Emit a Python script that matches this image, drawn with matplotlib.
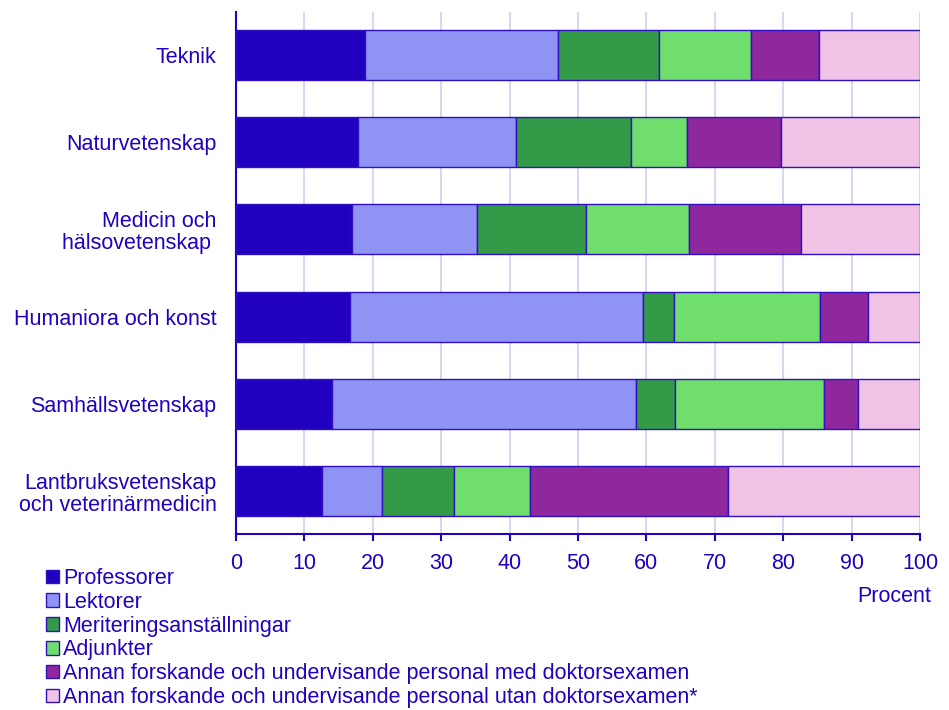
import numpy as np
import matplotlib
matplotlib.use("Agg")
import matplotlib.pyplot as plt
from matplotlib.patches import Patch

plt.rcParams['font.family'] = ['Liberation Sans', 'DejaVu Sans']

# categories, top to bottom
categories = ["Teknik", "Naturvetenskap", "Medicin och\nhälsovetenskap ",
              "Humaniora och konst", "Samhällsvetenskap",
              "Lantbruksvetenskap\noch veterinärmedicin"]

series_names = ["Professorer", "Lektorer", "Meriteringsanställningar", "Adjunkter",
                "Annan forskande och undervisande personal med doktorsexamen",
                "Annan forskande och undervisande personal utan doktorsexamen*"]

# procent per category (same order as categories)
professorer = [18.8, 17.8, 16.9, 16.7, 14.1, 12.6]
lektorer    = [28.3, 23.2, 18.4, 42.8, 44.4, 8.8]
meritering  = [14.8, 16.8, 15.9, 4.5, 5.7, 10.5]
adjunkter   = [13.4, 8.2, 15.1, 21.4, 21.7, 11.1]
annan_med   = [10.0, 13.7, 16.3, 7.0, 5.0, 28.9]
annan_utan  = [14.7, 20.3, 17.4, 7.6, 9.1, 28.1]

colors = ["#2200C0", "#8F94F4", "#339B48", "#70DE6C", "#8F289C", "#EFC2E6"]
txt = "#2200C0"
fs = 15.5

data = np.array([professorer, lektorer, meritering, adjunkter, annan_med, annan_utan])

fig = plt.figure(figsize=(9.49, 7.10), dpi=100)
ax = fig.add_axes([236/949, 1-534/710, (920-236)/949, (534-12)/710])

y = np.arange(len(categories))
left = np.zeros(len(categories))
for i in range(len(series_names)):
    ax.barh(y, data[i], left=left, height=0.575, color=colors[i],
            edgecolor="#3010C0", linewidth=1.0, zorder=3, label=series_names[i])
    left += data[i]

ax.set_ylim(5.49, -0.49)
ax.set_xlim(0, 100)
ax.set_xticks(np.arange(0, 101, 10))
ax.set_yticks(y)
ax.set_yticklabels(categories, ha="right", multialignment="right", linespacing=1.1)
ax.tick_params(axis="y", length=0, pad=14, labelsize=fs, labelcolor=txt)
ax.tick_params(axis="x", length=5, width=1.5, color=txt, pad=8.5, labelsize=fs, labelcolor=txt)
ax.grid(axis="x", color="#D8D8F0", linewidth=1.5, zorder=0)

for s in ["top", "right"]:
    ax.spines[s].set_visible(False)
for s in ["left", "bottom"]:
    ax.spines[s].set_color(txt)
    ax.spines[s].set_linewidth(1.5)

fig.text(894/949, 1-596/710, "Procent", ha="center", va="center", fontsize=fs, color=txt)

handles = [Patch(facecolor=c, edgecolor="#3010C0", linewidth=1.0) for c in colors]
leg = fig.legend(handles, series_names, loc="upper left", bbox_to_anchor=(46/949, 1-568/710),
                 frameon=False, fontsize=fs, handlelength=0.6, handleheight=0.6,
                 handletextpad=0.2, labelspacing=0.13, borderaxespad=0, borderpad=0)
for t in leg.get_texts():
    t.set_color(txt)

fig.savefig("out.png", dpi=100)
